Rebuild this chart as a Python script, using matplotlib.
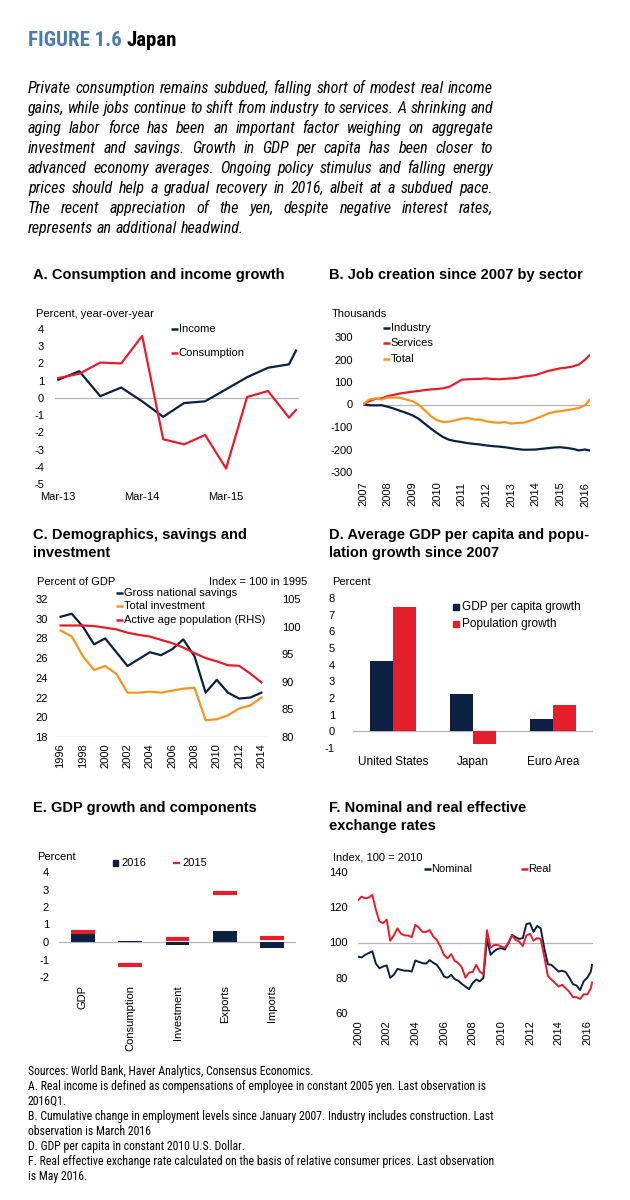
import numpy as np
import matplotlib
matplotlib.use('Agg')
import matplotlib.pyplot as plt
from matplotlib.lines import Line2D
from matplotlib.patches import Rectangle
from matplotlib import font_manager

# ---------------- data ----------------
# A. quarterly, months since Mar-13
a_months = [0, 3, 6, 9, 12, 15, 18, 21, 24, 27, 30, 33, 34]
a_income = [1.05, 1.55, 0.1, 0.6, -0.2, -1.1, -0.3, -0.2, 0.5, 1.2, 1.75, 1.95, 2.75]
a_consumption = [1.15, 1.4, 2.05, 2.0, 3.6, -2.4, -2.7, -2.15, -4.1, 0.05, 0.4, -1.15, -0.7]
a_tick_pos = [0, 12, 24]
a_tick_labels = ['Mar-13', 'Mar-14', 'Mar-15']

# B. thousands, cumulative since Jan 2007 (quarterly readings)
b_years = list(np.arange(2007, 2016.01, 0.25)) + [2016.17]
b_industry = [0, -3, -4, -3, -10, -18, -28, -37, -48, -63, -85, -107, -127, -145, -157, -163,
              -167, -172, -175, -178, -182, -185, -187, -190, -194, -198, -201, -201, -200,
              -197, -194, -191, -190, -193, -197, -204, -200, -204]
b_services = [0, 15, 25, 27, 37, 43, 49, 53, 57, 60, 64, 67, 69, 72, 79, 94, 110, 112, 113,
              114, 116, 113, 112, 114, 116, 118, 124, 127, 131, 140, 149, 155, 161, 164, 169,
              178, 199, 218]
b_total = [0, 22, 27, 22, 31, 31, 30, 22, 15, 0, -25, -52, -70, -78, -76, -70, -63, -60, -67,
           -67, -75, -79, -81, -78, -85, -82, -81, -73, -63, -52, -40, -33, -30, -25, -21,
           -15, -3, 19]
b_ticks = list(range(2007, 2017))

# C. percent of GDP / index
c_years = list(range(1996, 2015))
c_savings = [30.2, 30.5, 29.2, 27.4, 28.0, 26.6, 25.2, 25.9, 26.6, 26.3, 26.9, 27.9, 26.2,
             22.5, 23.8, 22.5, 21.9, 22.0, 22.5]
c_investment = [28.8, 28.2, 26.2, 24.8, 25.2, 24.4, 22.5, 22.5, 22.6, 22.5, 22.7, 22.9, 23.0,
                19.7, 19.8, 20.2, 20.9, 21.2, 22.0]
c_active = [100.2, 100.2, 100.2, 100.1, 99.8, 99.5, 98.9, 98.5, 98.2, 97.6, 97.0, 96.2, 95.2,
            94.3, 93.7, 93.0, 92.9, 91.5, 89.9]
c_ticks = list(range(1996, 2015, 2))

# D.
d_regions = ['United States', 'Japan', 'Euro Area']
d_gdp_pc = [4.2, 2.26, 0.74]
d_pop = [7.46, -0.74, 1.58]

# E.
e_items = ['GDP', 'Consumption', 'Investment', 'Exports', 'Imports']
e_2016 = [0.45, 0.05, -0.15, 0.62, -0.33]
e_2015 = [0.58, -1.3, 0.2, 2.78, 0.25]

# F. index 2010 = 100 (quarterly readings)
f_years = list(np.arange(2000, 2016.26, 0.25)) + [2016.33]
f_nominal = [92, 91.5, 93, 94, 95, 88, 85.4, 86.4, 87, 80, 81.7, 85, 84.5, 84, 84, 83.5,
             89.8, 89, 88.3, 88, 90, 88.5, 87.3, 84.5, 80.7, 80, 81.7, 79.2, 78.3, 76.5, 75,
             73.5, 77, 79, 78, 79.8, 102, 93, 95, 96.4, 96.8, 96, 99.6, 104.3, 103, 102,
             102.5, 110.4, 111, 106, 109.4, 108, 96.8, 87.7, 87.3, 85.4, 83.5, 84, 83.2, 80,
             76.4, 75.6, 73, 78, 80, 83.5, 87.3]
f_real = [124, 126, 125, 125.5, 127, 118.5, 112, 111, 113, 101, 104, 108, 105, 104, 104, 103,
          110, 108.5, 106, 106, 107, 103.4, 101.5, 97.7, 93, 91, 93.4, 89.6, 88.3, 85.8, 80,
          83, 83.2, 87.3, 83.5, 82, 107, 97, 98.6, 98.6, 97.7, 97, 100, 104, 101.5, 100.5,
          98, 104, 105, 101, 102.5, 102, 92, 81, 79, 77, 75, 76, 74, 72, 69, 69, 68, 70.7,
          70.5, 74, 77.3]
f_ticks = list(range(2000, 2017, 2))

paragraph = [
    "Private consumption remains subdued, falling short of modest real income",
    "gains, while jobs continue to shift from industry to services. A shrinking and",
    "aging labor force has been an important factor weighing on aggregate",
    "investment and savings. Growth in GDP per capita has been closer to",
    "advanced economy averages. Ongoing policy stimulus and falling energy",
    "prices should help a gradual recovery in 2016, albeit at a subdued pace.",
    "The recent appreciation of the yen, despite negative interest rates,",
    "represents an additional headwind.",
]
notes = [
    "Sources: World Bank, Haver Analytics, Consensus Economics.",
    "A. Real income is defined as compensations of employee in constant 2005 yen. Last observation is",
    "2016Q1.",
    "B. Cumulative change in employment levels since January 2007. Industry includes construction. Last",
    "observation is March 2016",
    "D. GDP per capita in constant 2010 U.S. Dollar.",
    "F. Real effective exchange rate calculated on the basis of relative consumer prices. Last observation",
    "is May 2016.",
]

# ---------------- style ----------------
NAVY = '#0c2142'
RED = '#e41e2b'
ORANGE = '#f7941d'
GRAY = '#b4b4b4'
BLUE = '#4b7bad'

plt.rcParams['font.family'] = ['Liberation Sans', 'DejaVu Sans']
plt.rcParams['axes.unicode_minus'] = False

# a condensed face for the text blocks, if one is installed
fonts = [(f.name, f.style) for f in font_manager.fontManager.ttflist]
narrow_candidates = ['Liberation Sans Narrow', 'Arial Narrow', 'Roboto Condensed',
                     'Open Sans Condensed', 'Noto Sans Condensed']


def pick(style):
    for name in narrow_candidates:
        if (name, style) in fonts:
            return name
    return 'Liberation Sans'


NARROW = pick('normal')
NARROW_IT = pick('italic')

W, H = 630, 1200
fig = plt.figure(figsize=(W / 100, H / 100), dpi=100)
renderer = fig.canvas.get_renderer()


def fx(x):
    return x / W


def fy(y):
    return 1 - y / H


def add_ax(l, t, r, b):
    return fig.add_axes([fx(l), fy(b), (r - l) / W, (b - t) / H])


def style(ax, ypad, xpad):
    for s in ax.spines.values():
        s.set_visible(False)
    ax.tick_params(length=0, labelsize=8, colors='black')
    ax.tick_params(axis='y', pad=ypad)
    ax.tick_params(axis='x', pad=xpad)
    ax.patch.set_alpha(0)


def txt(x, y, s, **kw):
    kw.setdefault('fontsize', 8)
    kw.setdefault('va', 'center')
    return fig.text(fx(x), fy(y), s, **kw)


def width(t):
    return t.get_window_extent(renderer).width


def leg_line(x, y, color, label, seg=7, lw=1.8):
    fig.add_artist(Line2D([fx(x), fx(x + seg)], [fy(y), fy(y)], transform=fig.transFigure,
                          color=color, lw=lw, solid_capstyle='butt'))
    txt(x + seg + 0.5, y, label)


def leg_box(x, y, color, label, size=5.5, gap=4, fs=8):
    fig.add_artist(Rectangle((fx(x), fy(y + size / 2)), size / W, size / H,
                             transform=fig.transFigure, color=color))
    txt(x + size + gap, y, label, fontsize=fs)


def fit_size(lines, target, base=10, **kw):
    t = fig.text(0, 0, '', fontsize=base, **kw)
    m = 0
    for ln in lines:
        t.set_text(ln)
        m = max(m, width(t))
    t.remove()
    return base * target / m


# ---------------- header ----------------
hsize = min(15, fit_size(['FIGURE 1.6'], 93, family=NARROW, weight='bold') * 1.08)
t1 = txt(28, 40, 'FIGURE 1.6', fontsize=hsize, family=NARROW, weight='bold', color=BLUE)
txt(28 + width(t1) + 5, 40, 'Japan', fontsize=hsize, family=NARROW, weight='bold',
    color='black')

psize = min(12, fit_size(paragraph[:-1], 463, family=NARROW_IT, style='italic'))
x0, x1 = 28, 493
for i, line in enumerate(paragraph):
    y = 88.3 + 20 * i
    words = line.split()
    ts = [txt(0, y, w, fontsize=psize, family=NARROW_IT, style='italic') for w in words]
    ws = [width(t) for t in ts]
    if i < len(paragraph) - 1:
        gap = (x1 - x0 - sum(ws)) / (len(words) - 1)
    else:
        sp = fig.text(0, 0, 'a b', fontsize=psize, family=NARROW_IT, style='italic')
        sp2 = fig.text(0, 0, 'ab', fontsize=psize, family=NARROW_IT, style='italic')
        gap = width(sp) - width(sp2)
        sp.remove()
        sp2.remove()
    x = x0
    for t, w in zip(ts, ws):
        t.set_position((fx(x), fy(y)))
        x += w + gap

# ---------------- panel titles ----------------
TS = 10.5
txt(33, 275, 'A. Consumption and income growth', fontsize=TS, weight='bold')
txt(329, 275, 'B. Job creation since 2007 by sector', fontsize=TS, weight='bold')
txt(33, 535, 'C. Demographics, savings and', fontsize=TS, weight='bold')
txt(33, 553, 'investment', fontsize=TS, weight='bold')
txt(329, 535, 'D. Average GDP per capita and popu-', fontsize=TS, weight='bold')
txt(329, 553, 'lation growth since 2007', fontsize=TS, weight='bold')
txt(33, 808, 'E. GDP growth and components', fontsize=TS, weight='bold')
txt(329, 808, 'F. Nominal and real effective', fontsize=TS, weight='bold')
txt(329, 826, 'exchange rates', fontsize=TS, weight='bold')

# ---------------- A ----------------
axA = add_ax(55, 329, 299, 484)
axA.axhline(0, color=GRAY, lw=0.9, zorder=0)
axA.plot(a_months, a_income, color=NAVY, lw=1.6)
axA.plot(a_months, a_consumption, color=RED, lw=1.6)
axA.set_ylim(-5, 4)
axA.set_yticks(range(-5, 5))
axA.set_xlim(-0.47, 34.43)
axA.set_xticks(a_tick_pos)
axA.set_xticklabels(a_tick_labels)
style(axA, 7.9, 6)
txt(36, 314, 'Percent, year-over-year')
leg_line(171, 329, NAVY, 'Income')
leg_line(171, 353, RED, 'Consumption')

# ---------------- B ----------------
axB = add_ax(363, 337, 590, 472)
axB.axhline(0, color=GRAY, lw=0.9, zorder=0)
axB.plot(b_years, b_industry, color=NAVY, lw=1.6)
axB.plot(b_years, b_services, color=RED, lw=1.6)
axB.plot(b_years, b_total, color=ORANGE, lw=1.6)
axB.set_ylim(-300, 300)
axB.set_yticks(range(-300, 301, 100))
axB.set_xlim(2007, 2016.2)
axB.set_xticks(b_ticks)
axB.set_xticklabels([str(v) for v in b_ticks], rotation=90)
style(axB, 7.2, 7)
txt(332, 314, 'Thousands')
leg_line(383, 328, NAVY, 'Industry')
leg_line(383, 343, RED, 'Services')
leg_line(383, 359, ORANGE, 'Total')

# ---------------- C ----------------
axC = add_ax(55, 599, 267, 737)
axC.axhline(18, color=GRAY, lw=0.9, zorder=0)
axC.plot(c_years, c_savings, color=NAVY, lw=1.6)
axC.plot(c_years, c_investment, color=ORANGE, lw=1.6)
axC.set_ylim(18, 32)
axC.set_yticks(range(18, 33, 2))
axC.set_xlim(1995.5, 2014.5)
axC.set_xticks(c_ticks)
axC.set_xticklabels([str(v) for v in c_ticks], rotation=90)
style(axC, 5, 4.3)
axC2 = axC.twinx()
axC2.plot(c_years, c_active, color=RED, lw=1.6)
axC2.set_ylim(80, 105)
axC2.set_yticks(range(80, 106, 5))
style(axC2, 10.6, 4.3)
txt(37, 582, 'Percent of GDP')
txt(307, 582, 'Index = 100 in 1995', ha='right')
leg_line(116, 593, NAVY, 'Gross national savings')
leg_line(116, 606, ORANGE, 'Total investment')
leg_line(116, 620, RED, 'Active age population (RHS)')

# ---------------- D ----------------
axD = add_ax(353, 598, 593, 748)
xd = np.arange(len(d_regions))
bw = 0.29
axD.bar(xd - bw / 2, d_gdp_pc, bw, color=NAVY)
axD.bar(xd + bw / 2, d_pop, bw, color=RED)
axD.axhline(0, color=GRAY, lw=0.9, zorder=0)
axD.set_ylim(-1, 8)
axD.set_yticks(range(-1, 9))
axD.set_xlim(-0.5, 2.5)
axD.set_xticks(xd)
axD.set_xticklabels(d_regions)
style(axD, 13, 6)
axD.tick_params(axis='x', labelsize=8.5)
txt(332, 582, 'Percent')
leg_box(453, 607, NAVY, 'GDP per capita growth', fs=8.5)
leg_box(453, 624, RED, 'Population growth', fs=8.5)

# ---------------- E ----------------
axE = add_ax(59, 872, 296, 977)
xe = np.arange(len(e_items))
axE.bar(xe, e_2016, 0.5, color=NAVY, zorder=2)
axE.hlines(e_2015, xe - 0.25, xe + 0.25, color=RED, lw=3, zorder=3)
axE.axhline(0, color=GRAY, lw=0.9, zorder=1)
axE.set_ylim(-2, 4)
axE.set_yticks(range(-2, 5))
axE.set_xlim(-0.5, 4.5)
axE.set_xticks(xe)
axE.set_xticklabels(e_items, rotation=90)
style(axE, 7.2, 5.8)
txt(37, 857, 'Percent')
leg_box(112.5, 863, NAVY, '2016', gap=3)
fig.add_artist(Line2D([fx(174), fx(179)], [fy(863), fy(863)], transform=fig.transFigure,
                      color=RED, lw=1.6))
txt(182.5, 863, '2015')

# ---------------- F ----------------
axF = add_ax(358, 872, 593, 1013)
axF.axhline(100, color=GRAY, lw=0.9, zorder=0)
axF.plot(f_years, f_nominal, color=NAVY, lw=1.4)
axF.plot(f_years, f_real, color=RED, lw=1.4)
axF.set_ylim(60, 140)
axF.set_yticks(range(60, 141, 20))
axF.set_xlim(2000, 2016.4)
axF.set_xticks(f_ticks)
axF.set_xticklabels([str(v) for v in f_ticks], rotation=90)
style(axF, 7.2, 5)
txt(333, 857, 'Index, 100 = 2010')
leg_line(424, 869, NAVY, 'Nominal')
leg_line(521, 869, RED, 'Real')

# ---------------- notes ----------------
nsize = fit_size([notes[3]], 462, family=NARROW)
for i, line in enumerate(notes):
    txt(28, 1071.5 + 15 * i, line, fontsize=nsize, family=NARROW)

fig.savefig('out.png', dpi=100)
